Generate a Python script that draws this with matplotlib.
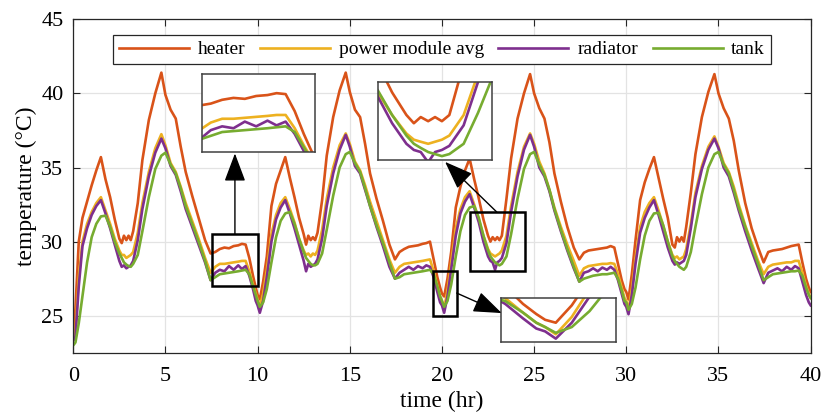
import matplotlib
matplotlib.use("Agg")
import matplotlib.pyplot as plt
from matplotlib.patches import Rectangle

plt.rcParams['font.family'] = ['Liberation Serif', 'DejaVu Serif']

# time axis (hr), one row per 10 hr cycle
time_hr = [
    0.0, 0.12, 0.3, 0.5, 0.75, 1.0, 1.25, 1.5, 1.75, 2.0, 2.25, 2.5, 2.63, 2.75, 2.88, 3.0, 3.12, 3.25, 3.5, 3.75, 4.1, 4.45,
    4.78, 5.0, 5.28, 5.56, 5.83, 6.1, 6.45, 6.8, 7.15, 7.45, 7.7, 7.95, 8.2, 8.45, 8.7, 8.95, 9.15, 9.35, 9.55, 9.75, 9.9,
    10.0, 10.12, 10.3, 10.5, 10.75, 11.0, 11.25, 11.5, 11.75, 12.0, 12.25, 12.5, 12.63, 12.75, 12.88, 13.0, 13.12, 13.25, 13.5, 13.75, 14.1, 14.45,
    14.78, 15.0, 15.28, 15.56, 15.83, 16.1, 16.45, 16.8, 17.15, 17.45, 17.7, 17.95, 18.2, 18.45, 18.7, 18.95, 19.15, 19.35, 19.55, 19.75, 19.9,
    20.0, 20.12, 20.3, 20.5, 20.75, 21.0, 21.25, 21.5, 21.75, 22.0, 22.25, 22.5, 22.63, 22.75, 22.88, 23.0, 23.12, 23.25, 23.5, 23.75, 24.1, 24.45,
    24.78, 25.0, 25.28, 25.56, 25.83, 26.1, 26.45, 26.8, 27.15, 27.45, 27.7, 27.95, 28.2, 28.45, 28.7, 28.95, 29.15, 29.35, 29.55, 29.75, 29.9,
    30.0, 30.12, 30.3, 30.5, 30.75, 31.0, 31.25, 31.5, 31.75, 32.0, 32.25, 32.5, 32.63, 32.75, 32.88, 33.0, 33.12, 33.25, 33.5, 33.75, 34.1, 34.45,
    34.78, 35.0, 35.28, 35.56, 35.83, 36.1, 36.45, 36.8, 37.15, 37.45, 37.7, 37.95, 38.2, 38.45, 38.7, 38.95, 39.15, 39.35, 39.55, 39.75, 39.9,
    40.0,
]

heater = [
    23.4, 25.5, 30.0, 31.6, 32.7, 33.8, 34.8, 35.7, 34.2, 33.0, 31.5, 30.2, 29.9, 30.4, 30.1, 30.4, 30.1, 30.7, 32.6, 35.5, 38.2, 40.0,
    41.4, 39.9, 38.9, 38.3, 36.4, 34.7, 33.1, 31.6, 30.1, 29.2, 29.3, 29.5, 29.6, 29.55, 29.7, 29.75, 29.85, 29.8, 28.9, 27.7, 26.9,
    26.4, 26.1, 27.3, 29.0, 32.4, 33.9, 34.8, 35.7, 34.3, 33.0, 31.6, 30.5, 29.8, 30.4, 30.1, 30.3, 30.1, 30.6, 32.8, 35.8, 38.4, 40.2,
    41.4, 40.1, 38.9, 38.4, 36.6, 34.6, 32.9, 31.4, 29.8, 28.8, 29.3, 29.5, 29.65, 29.7, 29.75, 29.85, 29.9, 30.0, 28.8, 27.6, 26.9,
    26.5, 26.3, 27.5, 29.3, 32.3, 33.7, 34.8, 35.6, 34.2, 32.9, 31.5, 30.4, 30.0, 30.3, 30.1, 30.3, 30.1, 30.4, 32.9, 35.6, 38.3, 40.0,
    41.3, 40.0, 39.0, 38.3, 36.7, 34.6, 32.7, 31.0, 29.6, 28.8, 29.25, 29.4, 29.45, 29.5, 29.55, 29.6, 29.7, 29.6, 28.5, 27.4, 26.8,
    26.6, 26.1, 27.8, 30.1, 32.8, 34.0, 34.9, 35.7, 34.3, 32.9, 31.6, 29.8, 29.6, 30.3, 30.0, 30.3, 30.0, 31.0, 33.3, 35.9, 38.4, 40.1,
    41.3, 40.0, 39.0, 38.3, 36.8, 34.8, 32.6, 30.9, 29.6, 28.6, 29.3, 29.4, 29.45, 29.5, 29.6, 29.7, 29.75, 29.8, 28.6, 27.5, 26.9,
    26.6,
]

power_module_avg = [
    23.5, 24.0, 27.6, 30.0, 31.2, 32.0, 32.6, 33.0, 32.1, 31.2, 30.2, 29.4, 29.1, 29.1, 28.9, 29.0, 29.1, 29.3, 30.6, 32.6, 34.7, 36.3,
    37.25, 36.5, 35.3, 34.7, 33.7, 32.6, 31.4, 30.2, 28.9, 27.9, 28.3, 28.5, 28.5, 28.55, 28.6, 28.65, 28.7, 28.7, 28.0, 27.1, 26.5,
    26.1, 25.6, 26.5, 28.1, 30.5, 31.8, 32.6, 33.0, 32.2, 31.3, 30.2, 29.4, 29.1, 29.2, 29.0, 29.2, 29.1, 29.4, 30.8, 32.9, 35.0, 36.5,
    37.3, 36.6, 35.4, 34.8, 33.8, 32.7, 31.4, 30.1, 28.8, 27.9, 28.3, 28.5, 28.55, 28.6, 28.65, 28.7, 28.75, 28.8, 28.0, 27.0, 26.3,
    26.0, 25.5, 26.7, 28.6, 30.9, 32.2, 33.0, 33.4, 32.5, 31.5, 30.4, 29.5, 29.2, 29.1, 29.0, 29.1, 29.2, 29.4, 30.4, 32.4, 34.7, 36.4,
    37.3, 36.6, 35.4, 34.6, 33.5, 32.3, 31.0, 29.8, 28.7, 27.7, 28.2, 28.35, 28.4, 28.45, 28.5, 28.5, 28.55, 28.5, 27.8, 26.9, 26.2,
    26.0, 25.4, 26.8, 28.9, 31.0, 32.0, 32.6, 33.0, 32.1, 31.1, 30.0, 29.1, 28.9, 29.0, 28.8, 28.9, 29.0, 29.5, 31.2, 33.3, 35.1, 36.4,
    37.1, 36.4, 35.3, 34.7, 33.7, 32.5, 31.1, 29.9, 28.7, 27.8, 28.3, 28.45, 28.5, 28.55, 28.6, 28.6, 28.7, 28.7, 27.9, 27.0, 26.5,
    26.2,
]

radiator = [
    23.3, 23.6, 27.0, 29.7, 30.9, 31.8, 32.4, 32.8, 31.9, 30.9, 29.8, 28.7, 28.3, 28.4, 28.2, 28.3, 28.4, 28.7, 30.1, 32.2, 34.4, 36.0,
    36.95, 36.3, 35.1, 34.5, 33.4, 32.2, 31.0, 29.8, 28.6, 27.4, 27.9, 28.1, 28.0, 28.35, 28.1, 28.4, 28.15, 28.35, 27.7, 26.8, 26.0,
    25.7, 25.2, 26.0, 27.6, 30.0, 31.5, 32.3, 32.8, 31.9, 30.9, 29.8, 28.7, 28.0, 28.5, 28.3, 28.4, 28.5, 28.8, 30.2, 32.4, 34.6, 36.2,
    37.2, 36.4, 35.1, 34.6, 33.5, 32.4, 31.0, 29.7, 28.3, 27.5, 27.9, 28.1, 28.3, 28.1, 28.35, 28.2, 28.4, 28.3, 27.6, 26.6, 25.9,
    25.7, 25.2, 26.3, 28.1, 30.4, 31.9, 32.7, 33.2, 32.3, 31.3, 30.0, 29.0, 28.7, 28.6, 28.1, 28.6, 28.7, 28.9, 29.9, 32.0, 34.4, 36.2,
    37.2, 36.4, 35.0, 34.4, 33.4, 32.1, 30.7, 29.4, 28.2, 27.3, 27.9, 28.0, 28.2, 28.0, 28.25, 28.1, 28.3, 28.1, 27.4, 26.5, 25.8,
    25.6, 25.1, 26.4, 28.5, 30.6, 31.6, 32.3, 32.8, 31.8, 30.7, 29.6, 28.7, 28.45, 28.6, 28.5, 28.6, 28.7, 29.1, 30.9, 33.0, 34.9, 36.2,
    36.95, 36.3, 35.0, 34.4, 33.3, 32.1, 30.7, 29.4, 28.2, 27.2, 27.9, 28.05, 28.2, 28.0, 28.3, 28.1, 28.35, 28.2, 27.3, 26.4, 25.9,
    25.7,
]

tank = [
    23.0, 23.2, 24.5, 26.3, 28.6, 30.3, 31.2, 31.7, 31.75, 31.0, 30.0, 29.2, 28.9, 28.6, 28.45, 28.35, 28.3, 28.5, 29.1, 30.7, 33.0, 34.9,
    35.8, 36.0, 35.2, 34.6, 33.6, 32.4, 31.2, 30.0, 28.7, 27.4, 27.6, 27.8, 27.85, 27.9, 27.95, 28.0, 28.05, 28.1, 27.8, 27.0, 26.4,
    26.0, 25.6, 25.9, 26.8, 28.6, 30.3, 31.4, 31.9, 32.0, 31.2, 30.2, 29.3, 28.9, 28.7, 28.5, 28.4, 28.4, 28.5, 29.2, 30.8, 33.1, 35.0,
    35.9, 36.05, 35.3, 34.7, 33.6, 32.4, 31.1, 29.9, 28.6, 27.5, 27.6, 27.8, 27.85, 27.9, 27.95, 28.0, 28.05, 28.1, 27.8, 27.0, 26.3,
    26.0, 25.6, 26.0, 27.1, 29.0, 30.7, 31.8, 32.3, 32.4, 31.6, 30.4, 29.4, 29.0, 28.8, 28.6, 28.5, 28.4, 28.5, 29.0, 30.5, 32.9, 34.9,
    35.9, 36.05, 35.2, 34.5, 33.5, 32.2, 30.8, 29.5, 28.3, 27.3, 27.5, 27.6, 27.7, 27.75, 27.8, 27.8, 27.85, 27.9, 27.5, 26.7, 26.0,
    25.9, 25.4, 25.8, 26.9, 28.8, 30.4, 31.4, 31.9, 31.95, 31.1, 30.0, 29.0, 28.7, 28.5, 28.3, 28.2, 28.1, 28.3, 29.3, 31.0, 33.2, 35.0,
    35.9, 36.05, 35.2, 34.6, 33.5, 32.3, 31.0, 29.7, 28.5, 27.4, 27.6, 27.8, 27.85, 27.9, 27.95, 28.0, 28.0, 28.05, 27.7, 26.9, 26.4,
    26.2,
]

series = [
    ('heater', heater, '#D95319'),
    ('power module avg', power_module_avg, '#EDB120'),
    ('radiator', radiator, '#7E2F8E'),
    ('tank', tank, '#77AC30'),
]

# zoom windows: (xmin, xmax, ymin, ymax) and where the inset sits (data coords)
zoom_boxes = [(7.5, 10.0, 26.75, 30.87), (22.0, 24.0, 28.2, 32.0), (19.5, 20.8, 25.0, 28.0)]
rect_boxes = [(7.5, 10.0, 27.0, 30.5), (21.5, 24.5, 28.0, 32.0), (19.5, 20.8, 25.0, 28.0)]
inset_pos = [(6.97, 36.05, 6.15, 5.27), (16.52, 35.49, 6.21, 5.27), (23.19, 23.26, 6.26, 2.93)]
arrows = [((8.77, 30.5), (8.77, 35.95)), ((22.97, 32.0), (20.17, 35.38)), ((20.8, 26.53), (23.24, 25.18))]

edge = '#262626'
lw = 1.9

fig = plt.figure(figsize=(8.23, 4.19), dpi=100)
ax = fig.add_axes([0.089, 0.158, 0.896, 0.796])

for name, vals, col in series:
    ax.plot(time_hr, vals, color=col, lw=lw, label=name)

ax.set_xlim(0, 40)
ax.set_ylim(22.5, 45)
ax.set_xticks(range(0, 41, 5))
ax.set_yticks([25, 30, 35, 40, 45])
ax.grid(True, color='#E3E3E3', lw=0.9)
ax.set_axisbelow(True)
ax.tick_params(direction='in', top=True, right=True, length=5, width=0.8,
               color=edge, labelsize=16)
ax.tick_params(axis='x', pad=10)
ax.tick_params(axis='y', pad=7)
for s in ax.spines.values():
    s.set_color(edge)
    s.set_linewidth(0.9)
ax.set_xlabel('time (hr)', fontsize=17, labelpad=4)
ax.set_ylabel('temperature (°C)', fontsize=17, labelpad=3)

leg = ax.legend(loc='upper center', bbox_to_anchor=(0.5, 0.953), ncol=4, fontsize=14,
                handlelength=3.6, handletextpad=0.45, columnspacing=0.75,
                fancybox=False, framealpha=1, edgecolor=edge, borderpad=0.3,
                borderaxespad=0)
leg.get_frame().set_linewidth(0.9)

for (x0, x1, y0, y1), (rx0, rx1, ry0, ry1), pos, (tail, tip) in zip(zoom_boxes, rect_boxes, inset_pos, arrows):
    ax.add_patch(Rectangle((rx0, ry0), rx1 - rx0, ry1 - ry0, fill=False,
                           lw=1.8, edgecolor='k', zorder=4))
    ins = ax.inset_axes(pos, transform=ax.transData)
    for name, vals, col in series:
        ins.plot(time_hr, vals, color=col, lw=lw)
    ins.set_xlim(x0, x1)
    ins.set_ylim(y0, y1)
    ins.set_xticks([])
    ins.set_yticks([])
    for s in ins.spines.values():
        s.set_color('#404040')
        s.set_linewidth(1.1)
    ax.annotate('', xy=tip, xytext=tail,
                arrowprops=dict(arrowstyle='-|>,head_length=0.8,head_width=0.3',
                                mutation_scale=22, lw=1.0, color='k',
                                shrinkA=0, shrinkB=0), zorder=6)

fig.savefig('out.png', dpi=100)
